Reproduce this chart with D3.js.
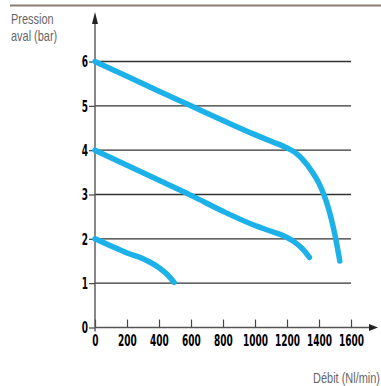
<!DOCTYPE html>
<html>
<head>
<meta charset="utf-8">
<script src="https://cdn.jsdelivr.net/npm/d3@7/dist/d3.min.js"></script>
<style>
  html, body { margin: 0; padding: 0; background: #fff; }
  svg { display: block; }
  .tick text { font-family: "DejaVu Sans", sans-serif; font-weight: bold; font-size: 15px; fill: #000; }
  .lbl { font-family: "Liberation Sans", Arial, sans-serif; font-size: 15px; fill: #666; }
</style>
</head>
<body>
<svg id="chart" width="381" height="386"></svg>
<script>
// Flow (Nl/min) vs downstream pressure (bar) for three set pressures
const xTicks = [0, 200, 400, 600, 800, 1000, 1200, 1400, 1600];
const yTicks = [0, 1, 2, 3, 4, 5, 6];

const flow6  = [0, 200, 400, 600, 800, 1000, 1100, 1200, 1250, 1300, 1350, 1400, 1430, 1460, 1490, 1510, 1530];
const press6 = [6, 5.67, 5.33, 5.0, 4.67, 4.35, 4.2, 4.05, 3.95, 3.78, 3.55, 3.25, 3.0, 2.68, 2.25, 1.9, 1.5];

const flow4  = [0, 200, 400, 600, 800, 1000, 1100, 1200, 1250, 1300, 1340];
const press4 = [4, 3.66, 3.32, 2.98, 2.62, 2.3, 2.17, 2.03, 1.92, 1.76, 1.58];

const flow2  = [0, 100, 200, 300, 350, 400, 450, 494];
const press2 = [2, 1.84, 1.68, 1.55, 1.46, 1.35, 1.2, 1.02];

const yTitle = ["Pression", "aval (bar)"];
const xTitle = "Débit (Nl/min)";

const svg = d3.select("#chart");
const x = d3.scaleLinear().domain([0, 1600]).range([95, 351]);
const y = d3.scaleLinear().domain([0, 6]).range([327.5, 61.5]);

// narrow digits: squeeze the bold face horizontally
const squeeze = 0.6;

// header rule
svg.append("line").attr("x1", 10).attr("x2", 381).attr("y1", 5.5).attr("y2", 5.5)
  .attr("stroke", "#8b7d72").attr("stroke-width", 2);

// horizontal grid
svg.append("g").selectAll("line").data(yTicks.filter(d => d > 0)).join("line")
  .attr("x1", x(0)).attr("x2", x(1600))
  .attr("y1", d => y(d)).attr("y2", d => y(d))
  .attr("stroke", "#333").attr("stroke-width", 1.4);

// x axis
const xAxis = d3.axisBottom(x).tickValues(xTicks).tickFormat(d3.format("d"))
  .tickSizeInner(-8).tickSizeOuter(0).tickPadding(8);
const gx = svg.append("g").attr("transform", `translate(0,${y(0)})`).call(xAxis);
gx.select(".domain").remove();
gx.selectAll(".tick line").attr("stroke", "#444").attr("stroke-width", 1.2);
gx.selectAll(".tick text").attr("transform", `scale(${squeeze},1)`);

// y axis
const yAxis = d3.axisLeft(y).tickValues(yTicks).tickFormat(d3.format("d"))
  .tickSizeInner(6).tickSizeOuter(0).tickPadding(0);
const gy = svg.append("g").attr("transform", `translate(${x(0)},0)`).call(yAxis);
gy.select(".domain").remove();
gy.selectAll(".tick line").attr("stroke", "#444").attr("stroke-width", 1.2);
gy.selectAll(".tick text")
  .attr("x", -7 / squeeze)
  .attr("dy", "0.36em")
  .attr("transform", `scale(${squeeze},1)`);

// axis lines with arrowheads
const axisColor = "#555";
svg.append("line").attr("x1", x(0)).attr("x2", 372).attr("y1", y(0)).attr("y2", y(0))
  .attr("stroke", axisColor).attr("stroke-width", 1.4);
svg.append("path").attr("d", `M369,${y(0) - 3.5} L378,${y(0)} L369,${y(0) + 3.5} Z`).attr("fill", "#222");
svg.append("line").attr("x1", x(0)).attr("x2", x(0)).attr("y1", y(0) + 4).attr("y2", 16)
  .attr("stroke", axisColor).attr("stroke-width", 1.4);
svg.append("path").attr("d", `M${x(0) - 3},24 L${x(0)},12 L${x(0) + 3},24 Z`).attr("fill", "#222");

// curves
const line = d3.line().x(d => x(d[0])).y(d => y(d[1])).curve(d3.curveMonotoneX);
const series = [
  d3.zip(flow6, press6),
  d3.zip(flow4, press4),
  d3.zip(flow2, press2)
];
svg.append("g").selectAll("path").data(series).join("path")
  .attr("d", line)
  .attr("fill", "none")
  .attr("stroke", "#1cb1e8")
  .attr("stroke-width", 5.5)
  .attr("stroke-linecap", "round")
  .attr("stroke-linejoin", "round");

// titles (condensed by horizontal scaling)
const titleScale = 0.73;
const addLabel = (tx, ty, txt, anchor) =>
  svg.append("text").attr("class", "lbl")
    .attr("transform", `translate(${tx},${ty}) scale(${titleScale},1)`)
    .attr("text-anchor", anchor).text(txt);
addLabel(11, 24, yTitle[0], "start");
addLabel(11, 41, yTitle[1], "start");
addLabel(380, 383, xTitle, "end");
</script>
</body>
</html>
